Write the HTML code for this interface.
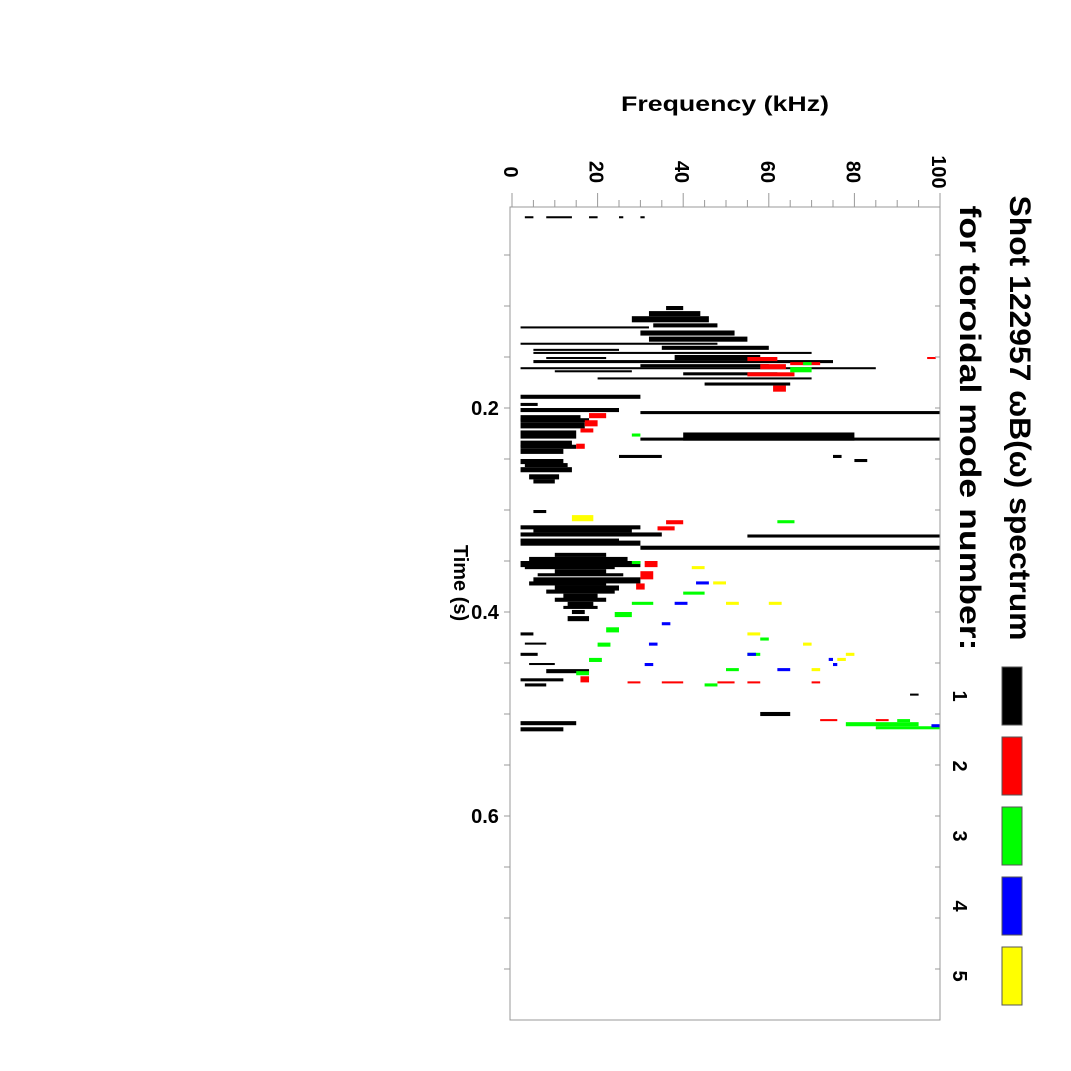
<!DOCTYPE html>
<html><head><meta charset="utf-8"><style>
html,body{margin:0;padding:0;background:#fff;}
svg{display:block;font-family:"Liberation Sans",sans-serif;}
</style></head><body>
<svg id="chart" width="1071" height="1071" viewBox="0 0 1071 1071">
<rect width="1071" height="1071" fill="#fff"/>
<g id="marks"></g>
<g id="axes"></g>
<text x="725" y="111" text-anchor="middle" font-size="21" font-weight="bold" textLength="208" lengthAdjust="spacingAndGlyphs">Frequency (kHz)</text>
<text transform="translate(454,583) rotate(90)" text-anchor="middle" font-size="20" font-weight="bold">Time (s)</text>
<text transform="translate(1010,418) rotate(90)" text-anchor="middle" font-size="30" font-weight="bold" textLength="445" lengthAdjust="spacingAndGlyphs">Shot 122957 ωB(ω) spectrum</text>
<text transform="translate(960,428) rotate(90)" text-anchor="middle" font-size="30" font-weight="bold" textLength="445" lengthAdjust="spacingAndGlyphs">for toroidal mode number:</text>
<g id="legend"></g>
</svg>
<script>
const NS="http://www.w3.org/2000/svg";
const freqTicks=[0,20,40,60,80,100];
const timeTicks=[0.2,0.4,0.6];
const modeLabels=["1","2","3","4","5"];
const modeColors=["#000","#f00","#0f0","#00f","#ff0"];
// blobs: time (s), time thickness (s), freq start, freq end (kHz), mode
const blobT=[0.012,0.012,0.012,0.012,0.012,
0.100,0.105,0.110,0.117,0.120,0.124,0.130,0.136,0.139,0.145,0.148,0.153,0.157,0.160,0.165,0.170,0.175,0.187,0.142,0.150,0.163,
0.195,0.200,0.203,0.207,0.214,0.222,0.224,0.229,0.232,0.240,0.246,0.246,0.250,0.258,0.265,0.250,
0.300,0.315,0.322,0.324,0.330,0.335,0.342,0.350,0.358,0.366,0.374,0.382,0.390,0.398,0.420,0.440,0.456,0.465,0.470,0.498,0.507,0.513,0.480,
0.210,0.236,0.254,0.270,0.318,0.328,0.346,0.354,0.362,0.370,0.378,0.386,0.394,0.404,0.430,0.450,
0.150,0.157,0.165,0.178,0.155,0.150,0.205,0.212,0.220,0.235,0.310,0.316,0.350,0.360,0.372,0.463,0.468,0.468,0.468,0.468,0.468,0.505,0.505,
0.160,0.155,0.225,0.310,0.350,0.380,0.390,0.400,0.415,0.430,0.445,0.458,0.425,0.440,0.455,0.470,0.508,0.512,0.505,
0.370,0.390,0.410,0.430,0.450,0.440,0.455,0.450,0.445,0.510,
0.305,0.355,0.370,0.390,0.420,0.390,0.430,0.445,0.455,0.440];
const blobDT=[0.002,0.002,0.002,0.002,0.002,
0.004,0.005,0.006,0.004,0.002,0.005,0.005,0.002,0.004,0.002,0.005,0.003,0.003,0.002,0.003,0.002,0.003,0.004,0.002,0.002,0.002,
0.003,0.004,0.003,0.006,0.006,0.008,0.008,0.003,0.006,0.005,0.003,0.003,0.005,0.005,0.005,0.003,
0.003,0.004,0.004,0.003,0.005,0.004,0.004,0.006,0.005,0.006,0.005,0.005,0.005,0.004,0.003,0.003,0.004,0.003,0.003,0.004,0.004,0.004,0.002,
0.004,0.004,0.004,0.004,0.004,0.003,0.004,0.004,0.003,0.004,0.004,0.004,0.003,0.005,0.002,0.002,
0.004,0.005,0.004,0.006,0.003,0.002,0.005,0.006,0.004,0.005,0.004,0.004,0.006,0.008,0.006,0.006,0.002,0.002,0.002,0.002,0.002,0.002,0.002,
0.005,0.003,0.003,0.003,0.003,0.003,0.003,0.005,0.005,0.004,0.004,0.004,0.003,0.003,0.003,0.003,0.004,0.003,0.003,
0.003,0.003,0.003,0.003,0.003,0.003,0.003,0.003,0.003,0.003,
0.006,0.003,0.003,0.003,0.003,0.003,0.003,0.003,0.003,0.003];
const blobF0=[3,8,18,25,30,
36,32,28,33,2,30,32,2,35,5,38,5,30,2,40,20,45,2,5,8,10,
2,2,30,2,2,2,40,30,2,2,25,75,2,2,4,80,
5,2,2,55,2,30,10,2,10,5,10,12,13,14,2,2,8,2,3,58,2,2,93,
2,2,3,5,5,2,4,3,6,4,8,10,12,13,3,4,
55,58,55,61,65,97,18,17,16,15,36,34,31,30,29,16,27,35,48,55,70,72,85,
65,68,28,62,28,40,28,24,22,20,18,15,58,55,50,45,78,85,90,
43,38,35,32,31,55,62,75,74,98,
14,42,47,50,55,60,68,76,70,78];
const blobF1=[5,14,20,26,31,
40,44,46,48,32,52,55,48,60,70,58,75,60,85,62,70,65,30,25,22,28,
6,25,100,16,17,15,80,100,14,12,35,77,12,14,11,83,
8,30,35,100,30,100,22,30,22,30,25,20,19,17,5,6,18,12,8,65,15,12,95,
18,15,13,10,28,25,27,24,26,22,24,22,20,18,8,10,
62,64,66,64,72,99,22,20,19,17,40,38,34,33,31,18,30,40,52,58,72,76,88,
70,70,30,66,30,45,33,28,25,23,21,18,60,58,53,48,95,100,93,
46,41,37,34,33,57,65,76,75,100,
19,45,50,53,58,63,70,78,72,80];
const blobMode=[1,1,1,1,1,
1,1,1,1,1,1,1,1,1,1,1,1,1,1,1,1,1,1,1,1,1,
1,1,1,1,1,1,1,1,1,1,1,1,1,1,1,1,
1,1,1,1,1,1,1,1,1,1,1,1,1,1,1,1,1,1,1,1,1,1,1,
1,1,1,1,1,1,1,1,1,1,1,1,1,1,1,1,
2,2,2,2,2,2,2,2,2,2,2,2,2,2,2,2,2,2,2,2,2,2,2,
3,3,3,3,3,3,3,3,3,3,3,3,3,3,3,3,3,3,3,
4,4,4,4,4,4,4,4,4,4,
5,5,5,5,5,5,5,5,5,5];

const X0=512,X1=940,Y0=204,Y1=1020;
function fx(f){return X0+(f/100)*(X1-X0);}
function ty(t){return Y0+(t/0.8)*(Y1-Y0);}

const marks=document.getElementById('marks');
for(let i=0;i<blobT.length;i++){
  const r=document.createElementNS(NS,'rect');
  
  
  const y=ty(blobT[i]), h=Math.max(2,ty(blobT[i]+blobDT[i])-y);
  r.setAttribute('x',fx(blobF0[i]));
  r.setAttribute('y',y);
  r.setAttribute('width',Math.max(2,fx(blobF1[i])-fx(blobF0[i])));
  r.setAttribute('height',h);
  r.setAttribute('fill',modeColors[blobMode[i]-1]);
  marks.appendChild(r);
}

const axes=document.getElementById('axes');
function line(x1,y1,x2,y2,name){
  const l=document.createElementNS(NS,'line');
  
  
  l.setAttribute('x1',x1);l.setAttribute('y1',y1);l.setAttribute('x2',x2);l.setAttribute('y2',y2);
  l.setAttribute('stroke','#999');l.setAttribute('stroke-width','1');
  axes.appendChild(l);
}
const fr=document.createElementNS(NS,'rect');


fr.setAttribute('x',X0-2);fr.setAttribute('y',Y0+3);fr.setAttribute('width',X1-X0+2);fr.setAttribute('height',Y1-Y0-3);
fr.setAttribute('fill','none');fr.setAttribute('stroke','#999');
axes.appendChild(fr);
for(let f=0;f<=100;f+=5){
  const big=f%20===0;
  line(fx(f),Y0+3,fx(f),Y0+3-(big?14:7),'frequency-tick');
}
for(let t=0.05;t<0.8;t+=0.05){
  line(X0-2,ty(t),X0-8,ty(t),'time-tick');
  line(X1,ty(t),X1-5,ty(t),'time-tick-right');
}
freqTicks.forEach(f=>{
  const tx=document.createElementNS(NS,'text');
  
  
  tx.setAttribute('transform','translate('+(fx(f)-8)+',172) rotate(90)');
  tx.setAttribute('text-anchor','middle');
  tx.setAttribute('font-size','20');tx.setAttribute('font-weight','bold');
  tx.textContent=String(f);
  axes.appendChild(tx);
});
timeTicks.forEach(t=>{
  const tx=document.createElementNS(NS,'text');
  
  
  tx.setAttribute('x',485);tx.setAttribute('y',ty(t)+7);
  tx.setAttribute('text-anchor','middle');
  tx.setAttribute('font-size','20');tx.setAttribute('font-weight','bold');
  tx.textContent=t.toFixed(1);
  axes.appendChild(tx);
});
const legend=document.getElementById('legend');
modeLabels.forEach((m,i)=>{
  const yc=696+i*70;
  const b=document.createElementNS(NS,'rect');
  
  
  b.setAttribute('x',1002);b.setAttribute('y',yc-29);b.setAttribute('width',20);b.setAttribute('height',58);
  b.setAttribute('fill',modeColors[i]);b.setAttribute('stroke','#555');
  legend.appendChild(b);
  const tx=document.createElementNS(NS,'text');
  
  
  tx.setAttribute('transform','translate(953,'+yc+') rotate(90)');
  tx.setAttribute('text-anchor','middle');
  tx.setAttribute('font-size','20');tx.setAttribute('font-weight','bold');
  tx.textContent=m;
  legend.appendChild(tx);
});
</script>
</body></html>
